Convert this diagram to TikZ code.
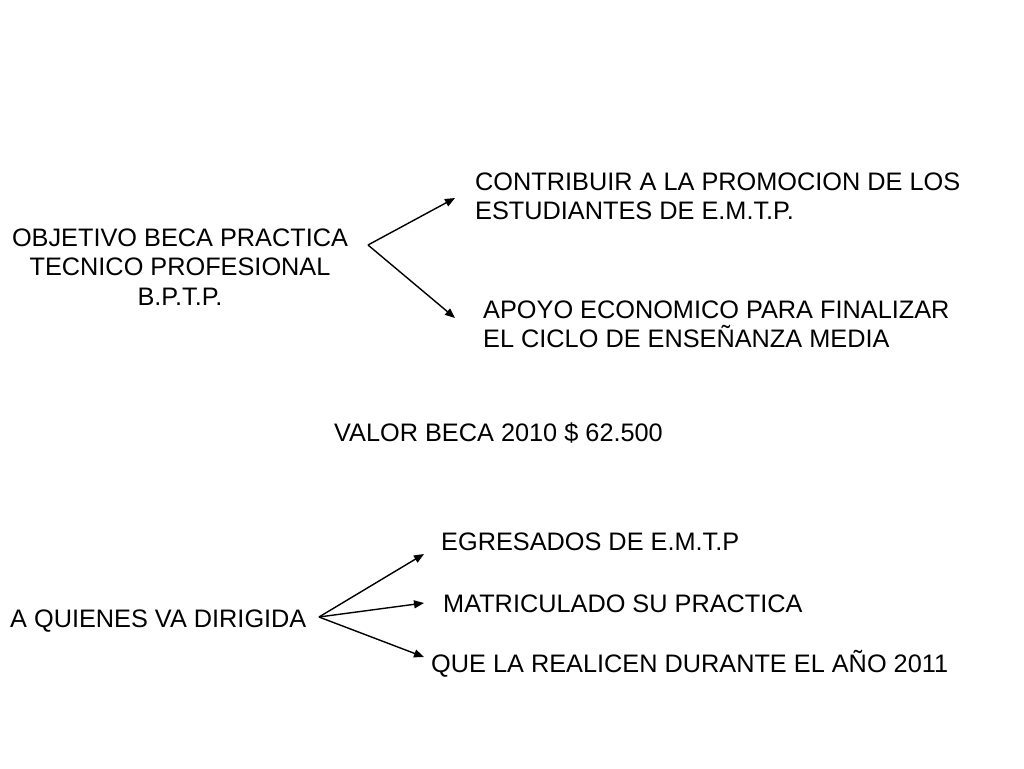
\documentclass[tikz,border=0pt]{standalone}
\usepackage{fontspec}
\setmainfont{Liberation Sans}
\usetikzlibrary{arrows.meta}

\begin{document}
\begin{tikzpicture}[x=1pt, y=-1pt,
  txt/.style = {inner sep=0pt, font=\fontsize{25.3}{29.5}\selectfont},
  arr/.style = {-{Triangle[length=10pt,width=8pt]}, line width=1.4pt}]

\useasboundingbox (0,0) rectangle (1024,768);

%% labels
\node[txt, align=center] (obj) at (180, 267) {OBJETIVO BECA PRACTICA\\TECNICO PROFESIONAL\\B.P.T.P.};
\node[txt, align=left, anchor=west] (contrib) at (475, 196.5) {CONTRIBUIR A LA PROMOCION DE LOS\\ESTUDIANTES DE E.M.T.P.};
\node[txt, align=left, anchor=west] (apoyo) at (483, 324.5) {APOYO ECONOMICO PARA FINALIZAR\\EL CICLO DE ENSE\~NANZA MEDIA};
\node[txt, anchor=west] (valor) at (334, 433) {VALOR BECA 2010 \$ 62.500};
\node[txt, anchor=west] (quienes) at (10, 621) {A QUIENES VA DIRIGIDA};
\node[txt, anchor=west] (egre) at (441, 542) {EGRESADOS DE E.M.T.P};
\node[txt, anchor=west] (matri) at (443, 604) {MATRICULADO SU PRACTICA};
\node[txt, anchor=west] (realicen) at (431, 664) {QUE LA REALICEN DURANTE EL A\~NO 2011};

%% arrow ends
\coordinate (f1) at (368, 245);
\coordinate (t1) at (455, 198);
\coordinate (t2) at (455, 318);
\coordinate (f2) at (319, 617);
\coordinate (t3) at (424, 554);
\coordinate (t4) at (424, 603);
\coordinate (t5) at (424, 657);

%%% arrows
\draw[arr] (f1) -- (t1);
\draw[arr] (f1) -- (t2);
\draw[arr] (f2) -- (t3);
\draw[arr] (f2) -- (t4);
\draw[arr] (f2) -- (t5);

\end{tikzpicture}
\end{document}
